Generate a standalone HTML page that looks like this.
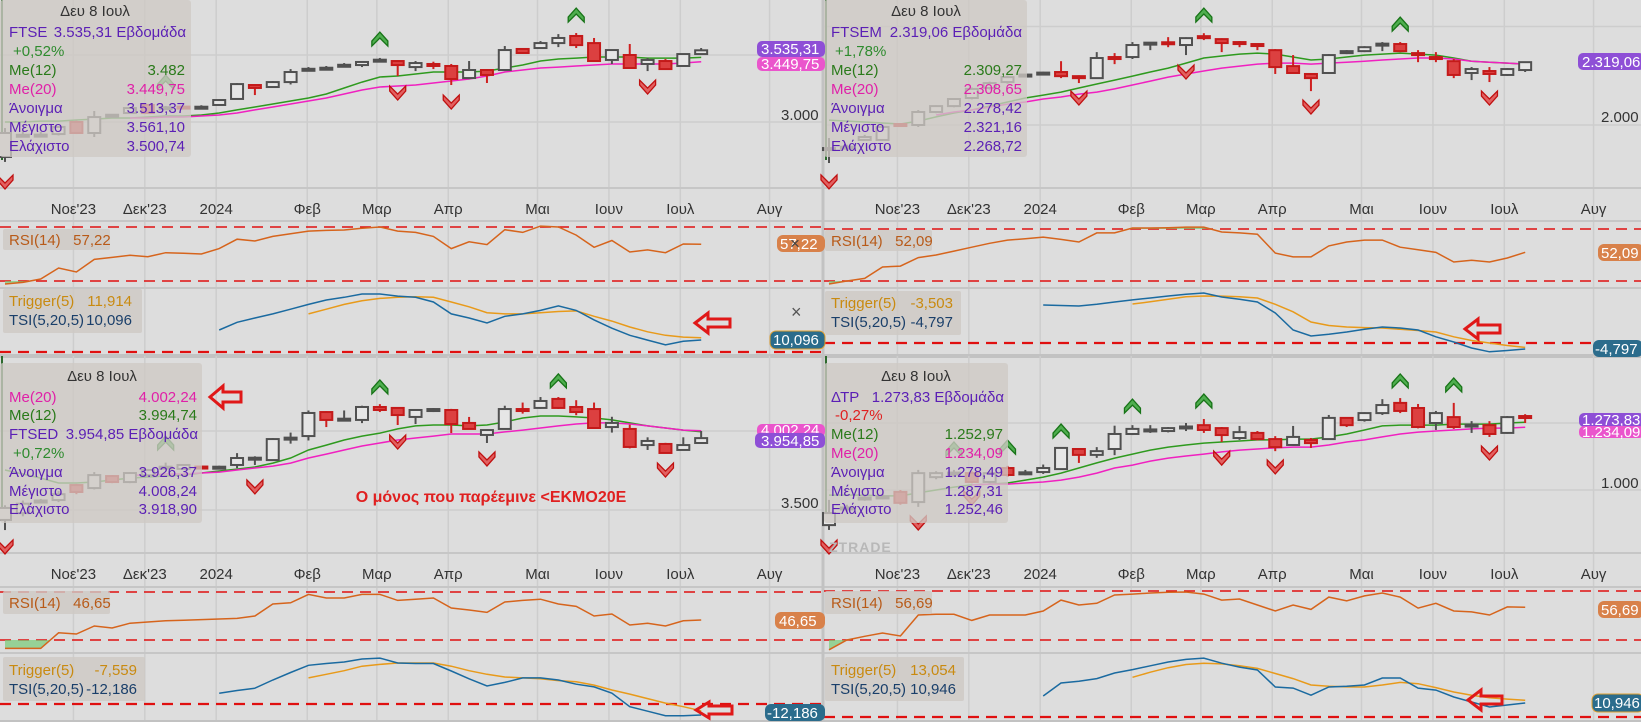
<!DOCTYPE html>
<html><head><meta charset="utf-8"><style>
html,body{margin:0;padding:0;background:#dddddd;}
svg{display:block;font-family:"Liberation Sans","DejaVu Sans",sans-serif;}
.lg{font-size:15px;}
</style></head><body>
<svg id="chart" xmlns="http://www.w3.org/2000/svg" width="1641" height="722" viewBox="0 0 1641 722">
<rect x="0" y="0" width="1641" height="722" fill="#dddddd"/>
<g id="layer-base"></g>
<g id="layer-marks"></g>

<!-- TOP LEFT LEGEND -->
<g class="lg">
<rect x="0" y="0" width="191" height="157" fill="rgba(206,201,196,0.78)" rx="3"/>
<text x="95" y="16" text-anchor="middle" fill="#333">Δευ 8 Ιουλ</text>
<text x="9" y="37" fill="#5b1fb5">FTSE</text>
<text x="186" y="37" text-anchor="end" fill="#5b1fb5">3.535,31 Εβδομάδα</text>
<text x="13" y="56" fill="#2e8b2e">+0,52%</text>
<text x="9" y="75" fill="#2a7a1a">Me(12)</text>
<text x="185" y="75" text-anchor="end" fill="#2a7a1a">3.482</text>
<text x="9" y="94" fill="#e020a8">Me(20)</text>
<text x="185" y="94" text-anchor="end" fill="#e020a8">3.449,75</text>
<text x="9" y="113" fill="#5b1fb5">Άνοιγμα</text>
<text x="185" y="113" text-anchor="end" fill="#5b1fb5">3.513,37</text>
<text x="9" y="132" fill="#5b1fb5">Μέγιστο</text>
<text x="185" y="132" text-anchor="end" fill="#5b1fb5">3.561,10</text>
<text x="9" y="151" fill="#5b1fb5">Ελάχιστο</text>
<text x="185" y="151" text-anchor="end" fill="#5b1fb5">3.500,74</text>
</g>

<!-- TOP RIGHT LEGEND -->
<g class="lg">
<rect x="824" y="0" width="203" height="157" fill="rgba(206,201,196,0.78)" rx="3"/>
<text x="926" y="16" text-anchor="middle" fill="#333">Δευ 8 Ιουλ</text>
<text x="831" y="37" fill="#5b1fb5">FTSEM</text>
<text x="1022" y="37" text-anchor="end" fill="#5b1fb5">2.319,06 Εβδομάδα</text>
<text x="835" y="56" fill="#2e8b2e">+1,78%</text>
<text x="831" y="75" fill="#2a7a1a">Me(12)</text>
<text x="1022" y="75" text-anchor="end" fill="#2a7a1a">2.309,27</text>
<text x="831" y="94" fill="#e020a8">Me(20)</text>
<text x="1022" y="94" text-anchor="end" fill="#e020a8">2.308,65</text>
<text x="831" y="113" fill="#5b1fb5">Άνοιγμα</text>
<text x="1022" y="113" text-anchor="end" fill="#5b1fb5">2.278,42</text>
<text x="831" y="132" fill="#5b1fb5">Μέγιστο</text>
<text x="1022" y="132" text-anchor="end" fill="#5b1fb5">2.321,16</text>
<text x="831" y="151" fill="#5b1fb5">Ελάχιστο</text>
<text x="1022" y="151" text-anchor="end" fill="#5b1fb5">2.268,72</text>
</g>

<!-- BOTTOM LEFT LEGEND -->
<g class="lg">
<rect x="0" y="363" width="202" height="160" fill="rgba(206,201,196,0.78)" rx="3"/>
<text x="102" y="381" text-anchor="middle" fill="#333">Δευ 8 Ιουλ</text>
<text x="9" y="402" fill="#e020a8">Me(20)</text>
<text x="197" y="402" text-anchor="end" fill="#e020a8">4.002,24</text>
<text x="9" y="420" fill="#2a7a1a">Me(12)</text>
<text x="197" y="420" text-anchor="end" fill="#2a7a1a">3.994,74</text>
<text x="9" y="439" fill="#5b1fb5">FTSED</text>
<text x="198" y="439" text-anchor="end" fill="#5b1fb5">3.954,85 Εβδομάδα</text>
<text x="13" y="458" fill="#2e8b2e">+0,72%</text>
<text x="9" y="477" fill="#5b1fb5">Άνοιγμα</text>
<text x="197" y="477" text-anchor="end" fill="#5b1fb5">3.926,37</text>
<text x="9" y="496" fill="#5b1fb5">Μέγιστο</text>
<text x="197" y="496" text-anchor="end" fill="#5b1fb5">4.008,24</text>
<text x="9" y="514" fill="#5b1fb5">Ελάχιστο</text>
<text x="197" y="514" text-anchor="end" fill="#5b1fb5">3.918,90</text>
</g>
<text x="491" y="502" text-anchor="middle" font-size="16" font-weight="bold" fill="#e02020">Ο μόνος που παρέεμινε &lt;ΕΚΜΟ20Ε</text>

<!-- BOTTOM RIGHT LEGEND -->
<g class="lg">
<rect x="824" y="363" width="184" height="160" fill="rgba(206,201,196,0.78)" rx="3"/>
<text x="916" y="381" text-anchor="middle" fill="#333">Δευ 8 Ιουλ</text>
<text x="831" y="402" fill="#5b1fb5">ΔΤΡ</text>
<text x="1004" y="402" text-anchor="end" fill="#5b1fb5">1.273,83 Εβδομάδα</text>
<text x="835" y="420" fill="#e02020">-0,27%</text>
<text x="831" y="439" fill="#2a7a1a">Me(12)</text>
<text x="1003" y="439" text-anchor="end" fill="#2a7a1a">1.252,97</text>
<text x="831" y="458" fill="#e020a8">Me(20)</text>
<text x="1003" y="458" text-anchor="end" fill="#e020a8">1.234,09</text>
<text x="831" y="477" fill="#5b1fb5">Άνοιγμα</text>
<text x="1003" y="477" text-anchor="end" fill="#5b1fb5">1.278,49</text>
<text x="831" y="496" fill="#5b1fb5">Μέγιστο</text>
<text x="1003" y="496" text-anchor="end" fill="#5b1fb5">1.287,31</text>
<text x="831" y="514" fill="#5b1fb5">Ελάχιστο</text>
<text x="1003" y="514" text-anchor="end" fill="#5b1fb5">1.252,46</text>
</g>
<text x="829" y="552" font-size="14" font-weight="bold" fill="#b8b8b8" letter-spacing="1">ZTRADE</text>

<!-- indicator legends -->
<g font-size="15">
<rect x="3" y="229" width="107" height="21" fill="rgba(206,201,196,0.8)" rx="2"/>
<text x="9" y="245" fill="#b85a18">RSI(14)&#160;&#160; 57,22</text>
<rect x="825" y="230" width="107" height="21" fill="rgba(206,201,196,0.8)" rx="2"/>
<text x="831" y="246" fill="#b85a18">RSI(14)&#160;&#160; 52,09</text>
<rect x="3" y="591" width="107" height="23" fill="rgba(206,201,196,0.8)" rx="2"/>
<text x="9" y="608" fill="#b85a18">RSI(14)&#160;&#160; 46,65</text>
<rect x="825" y="591" width="107" height="23" fill="rgba(206,201,196,0.8)" rx="2"/>
<text x="831" y="608" fill="#b85a18">RSI(14)&#160;&#160; 56,69</text>
</g>
<g font-size="15">
<rect x="3" y="289" width="139" height="44" fill="rgba(206,201,196,0.8)" rx="2"/>
<text x="9" y="306" fill="#c98a10">Trigger(5)</text>
<text x="132" y="306" text-anchor="end" fill="#c98a10">11,914</text>
<text x="9" y="325" fill="#1a3f6a">TSI(5,20,5)</text>
<text x="132" y="325" text-anchor="end" fill="#1a3f6a">10,096</text>
<rect x="825" y="291" width="136" height="44" fill="rgba(206,201,196,0.8)" rx="2"/>
<text x="831" y="308" fill="#c98a10">Trigger(5)</text>
<text x="953" y="308" text-anchor="end" fill="#c98a10">-3,503</text>
<text x="831" y="327" fill="#1a3f6a">TSI(5,20,5)</text>
<text x="953" y="327" text-anchor="end" fill="#1a3f6a">-4,797</text>
<rect x="3" y="657" width="142" height="44" fill="rgba(206,201,196,0.8)" rx="2"/>
<text x="9" y="675" fill="#c98a10">Trigger(5)</text>
<text x="137" y="675" text-anchor="end" fill="#c98a10">-7,559</text>
<text x="9" y="694" fill="#1a3f6a">TSI(5,20,5)</text>
<text x="137" y="694" text-anchor="end" fill="#1a3f6a">-12,186</text>
<rect x="825" y="657" width="139" height="44" fill="rgba(206,201,196,0.8)" rx="2"/>
<text x="831" y="675" fill="#c98a10">Trigger(5)</text>
<text x="956" y="675" text-anchor="end" fill="#c98a10">13,054</text>
<text x="831" y="694" fill="#1a3f6a">TSI(5,20,5)</text>
<text x="956" y="694" text-anchor="end" fill="#1a3f6a">10,946</text>
</g>

<!-- right axis labels -->
<g font-size="15">
<text x="781" y="120" fill="#333">3.000</text>
<rect x="757" y="41" width="68" height="16" rx="5" fill="#8e4fd6"/>
<text x="761" y="54" fill="#fff">3.535,31</text>
<rect x="757" y="57" width="68" height="14" rx="5" fill="#ea55cc"/>
<text x="761" y="69" fill="#fff">3.449,75</text>

<text x="1601" y="122" fill="#333">2.000</text>
<rect x="1578" y="53" width="66" height="17" rx="5" fill="#8e4fd6"/>
<text x="1582" y="67" fill="#fff">2.319,06</text>

<text x="781" y="508" fill="#333">3.500</text>
<rect x="757" y="424" width="68" height="13" rx="5" fill="#ea55cc"/>
<text x="761" y="435" fill="#fff">4.002,24</text>
<rect x="755" y="433" width="70" height="15" rx="5" fill="#8e4fd6"/>
<text x="761" y="446" fill="#fff">3.954,85</text>

<text x="1601" y="488" fill="#333">1.000</text>
<rect x="1579" y="413" width="65" height="14" rx="5" fill="#8e4fd6"/>
<text x="1582" y="425" fill="#fff">1.273,83</text>
<rect x="1579" y="426" width="65" height="12" rx="5" fill="#ea55cc"/>
<text x="1582" y="437" fill="#fff">1.234,09</text>

<rect x="777" y="235" width="48" height="17" rx="6" fill="#d8814a"/>
<text x="780" y="249" fill="#fff">57,22</text>
<text x="790" y="249" font-size="17" fill="#444">×</text>
<rect x="1598" y="244" width="46" height="17" rx="6" fill="#d8814a"/>
<text x="1601" y="258" fill="#fff">52,09</text>
<rect x="775" y="612" width="50" height="17" rx="6" fill="#d8814a"/>
<text x="779" y="626" fill="#fff">46,65</text>
<rect x="1598" y="601" width="46" height="17" rx="6" fill="#d8814a"/>
<text x="1601" y="615" fill="#fff">56,69</text>

<text x="791" y="318" font-size="18" fill="#555">×</text>
<rect x="770" y="331" width="55" height="18" rx="6" fill="#2b6c8c" stroke="#e0a030" stroke-width="1"/>
<text x="773" y="345" fill="#fff">10,096</text>
<rect x="1593" y="340" width="50" height="17" rx="6" fill="#2b6c8c"/>
<text x="1595" y="354" fill="#fff">-4,797</text>
<rect x="765" y="704" width="60" height="17" rx="6" fill="#2b6c8c"/>
<text x="767" y="718" fill="#fff">-12,186</text>
<rect x="1592" y="694" width="52" height="18" rx="6" fill="#2b6c8c" stroke="#e0a030" stroke-width="1"/>
<text x="1594" y="708" fill="#fff">10,946</text>
</g>

<!-- red hollow annotation arrows -->
<g fill="none" stroke="#e01818" stroke-width="3" stroke-linejoin="miter">
<polygon transform="translate(695,323)" points="0,0 13,-10 13,-4 35,-4 35,4 13,4 13,10"/>
<polygon transform="translate(1465,329)" points="0,0 13,-10 13,-4 35,-4 35,4 13,4 13,10"/>
<polygon transform="translate(210,397)" points="0,0 13,-11 13,-5 31,-5 31,5 13,5 13,11"/>
<polygon transform="translate(696,710)" points="0,0 13,-8 13,-4 36,-4 36,4 13,4 13,8"/>
<polygon transform="translate(1468,700)" points="0,0 13,-10 13,-4 34,-4 34,4 13,4 13,10"/>
</g>
</svg>
<script>
// ===== month ticks (candle-index positions) =====
const monthLabels = ["Νοε'23","Δεκ'23","2024","Φεβ","Μαρ","Απρ","Μαι","Ιουν","Ιουλ","Αυγ"];
const monthIdx = [4,8,12,17.1,21,25,30,34,38,43];

// ===== FTSE (top-left) =====
const tlOHLC = [[2739,2955,2702,2918],[2900,2930,2890,2905],[2903,2925,2890,2906],[2910,2970,2900,2963],[3000,3010,2910,2918],[2918,3082,2888,3037],[3050,3060,3040,3054],[3067,3110,3060,3104],[3127,3135,3060,3067],[3095,3120,3090,3110],[3115,3120,3095,3100],[3110,3125,3100,3114],[3127,3170,3125,3164],[3172,3290,3170,3283],[3276,3280,3201,3254],[3261,3305,3255,3298],[3298,3395,3280,3373],[3393,3410,3380,3397],[3401,3418,3390,3405],[3423,3440,3410,3427],[3425,3455,3410,3448],[3461,3478,3450,3465],[3455,3460,3343,3425],[3410,3455,3380,3440],[3433,3450,3395,3418],[3418,3433,3276,3321],[3328,3455,3320,3388],[3388,3395,3291,3351],[3388,3567,3380,3537],[3545,3550,3510,3515],[3552,3604,3552,3589],[3589,3656,3559,3627],[3642,3664,3552,3574],[3589,3627,3455,3455],[3463,3537,3433,3537],[3500,3582,3403,3403],[3433,3478,3380,3463],[3455,3470,3395,3395],[3418,3510,3418,3507],[3507,3552,3500,3535]];
const tlMa12 = [3000,3000,3007,3007,3015,3022,3030,3030,3037,3045,3045,3052,3067,3090,3112,3134,3157,3179,3209,3254,3298,3336,3343,3358,3373,3373,3373,3380,3403,3425,3455,3470,3477,3485,3485,3485,3477,3477,3477,3482];
const tlMa20 = [3030,3030,3037,3037,3045,3052,3067,3090,3112,3134,3157,3179,3209,3239,3261,3269,3276,3291,3306,3321,3343,3373,3388,3403,3410,3418,3425,3433,3433,3433,3433,3440,3450];
const tlRsi = [27.8,29,31.5,39.6,36.7,46,47.5,49,48,51,50.5,50,54,61,59.6,63,65,67,67.5,67.8,69,70,67,66,63,54,59,57,68,66,70.7,70,64,55,60,51.5,53,51,57.4,57.22];
const tlTsi = [18.5,25,28.6,32,36,40,43.7,46,48.7,48.7,47,46,42,32,28.6,24.4,30,32,35,38.7,35,27,20,14,10,6,9,10.096];
const tlTrig = [32,36,40,43,45,46,46.5,46,42,38,33,32,32,33,34,34.5,30,26,21,17,14,12.5,11.914];
const tlUp = [[9,3298],[21,3619],[32,3798]];
const tlDn = [[0,2552],[22,3216],[25,3149],[36,3261]];

// ===== FTSEM (top-right) =====
const trOHLC = [[1873,1934,1807,1883],[1886,1900,1870,1890],[1924,1950,1920,1939],[1924,2000,1920,1990],[2005,2010,1995,2000],[2000,2076,1990,2066],[2066,2100,2060,2096],[2096,2135,2090,2132],[2137,2190,2130,2183],[2188,2220,2180,2213],[2218,2250,2210,2243],[2252,2260,2245,2256],[2262,2270,2255,2266],[2269,2324,2238,2248],[2248,2252,2213,2238],[2238,2370,2235,2340],[2345,2365,2309,2335],[2345,2421,2335,2406],[2414,2421,2380,2418],[2420,2446,2395,2412],[2406,2445,2355,2441],[2451,2466,2431,2441],[2436,2440,2370,2416],[2421,2426,2395,2411],[2411,2412,2380,2401],[2380,2385,2259,2294],[2299,2355,2264,2264],[2259,2260,2172,2238],[2264,2360,2260,2355],[2365,2380,2360,2375],[2375,2400,2370,2395],[2409,2421,2375,2413],[2411,2421,2370,2375],[2365,2380,2319,2355],[2345,2370,2319,2335],[2324,2335,2238,2254],[2264,2294,2228,2284],[2274,2294,2218,2259],[2254,2289,2249,2284],[2279,2321,2269,2319]];
const trMa12 = [2025,2020,2015,2010,2005,2020,2041,2061,2076,2096,2117,2137,2152,2167,2188,2208,2228,2248,2269,2289,2314,2340,2350,2360,2365,2360,2345,2330,2335,2345,2355,2360,2365,2360,2355,2340,2324,2319,2314,2309];
const trMa20 = [2051,2066,2076,2091,2106,2117,2132,2142,2157,2167,2183,2203,2223,2243,2259,2274,2289,2299,2309,2314,2314,2309,2314,2319,2324,2330,2335,2340,2340,2335,2324,2319,2314,2309];
const trRsi = [27.7,30,32,40.8,41.5,48,50,53,56,59,61.5,62.5,63.8,62,60,67,67,70.8,70.8,71,71.5,71.5,67.7,67,66,51.5,48.5,48.5,57,60,61.5,61.5,56,54,52,44.6,46,44.6,47.7,52.09];
const trTsi = [30.4,30,29.6,31,32.8,34.5,36,37.6,39,40,36.8,35,32.8,24,10.4,5.6,7,8.8,11,12.8,12,10.4,5,0.8,-4,-7,-6,-4.797];
const trTrig = [31.2,33,35,37,37.6,37.5,37,36,31,25,16.8,14,12.8,12.3,12,11,10,8.8,5,2,0,-2,-3.503];
const trUp = [[21,2558],[32,2512]];
const trDn = [[0,1711],[14,2137],[20,2269],[27,2091],[37,2137]];

// ===== FTSED (bottom-left) =====
const blOHLC = [[3437,3530,3373,3513],[3480,3560,3460,3540],[3556,3570,3545,3560],[3563,3620,3550,3600],[3658,3665,3600,3614],[3639,3740,3630,3721],[3715,3720,3670,3677],[3677,3740,3670,3734],[3720,3760,3710,3753],[3770,3800,3760,3774],[3760,3790,3755,3785],[3775,3780,3765,3770],[3770,3780,3760,3774],[3785,3860,3765,3829],[3827,3840,3785,3831],[3816,3955,3810,3949],[3954,3990,3920,3958],[3968,4130,3940,4114],[4120,4125,4025,4070],[4074,4130,4070,4078],[4070,4160,4050,4152],[4152,4170,4120,4133],[4146,4150,4038,4101],[4089,4139,4044,4133],[4127,4145,4120,4139],[4133,4140,3987,4044],[4051,4089,4010,4013],[3975,4010,3924,4006],[4013,4160,4010,4139],[4139,4180,4110,4127],[4146,4215,4140,4190],[4203,4215,4140,4146],[4152,4195,4100,4120],[4139,4180,4019,4019],[4025,4090,3990,4051],[4013,4040,3890,3899],[3911,3960,3880,3937],[3918,3925,3860,3861],[3880,3960,3880,3911],[3924,4000,3924,3955]];
const blMa12 = [3753,3728,3702,3671,3671,3677,3690,3702,3709,3715,3721,3734,3747,3759,3772,3797,3829,3880,3911,3943,3968,3987,4013,4032,4038,4038,4032,4038,4057,4082,4095,4095,4089,4082,4070,4051,4032,4019,4006,3995];
const blMa20 = [3721,3721,3728,3728,3734,3740,3753,3766,3778,3797,3829,3854,3880,3905,3924,3943,3956,3968,3981,3981,3981,3994,4006,4019,4032,4044,4051,4051,4044,4032,4019,4006,4002];
const blRsi = [23,23,23,36,35,41.7,40,44,45,46,46.5,47,47.5,48,50,60,61,68,65,65,68,68,63,64,65,56.7,55,53,61.7,63,64,60,58,50,51.7,42.5,44,41.7,46,46.65];
const blTsi = [12,15,17.6,26.7,35,43,45,46.7,50,51,45.6,45,45,36.7,28,20,24,29,29,26.7,22,19,12,-3,-8,-13,-13,-12.186];
const blTrig = [29,33,37,42,44,45.6,45.6,45.6,42,37,33,30,29,28,26,24.7,21,15.6,11,6,1,-3,-7.559];
const blUp = [[9,3924],[21,4279],[31,4317]];
const blDn = [[0,3266],[14,3646],[22,3930],[27,3823],[37,3753]];

// ===== ΔΤΡ (bottom-right) =====
const brOHLC = [[869,963,851,914],[930,945,920,935],[968,980,960,972],[972,985,965,976],[993,1000,945,952],[955,1075,937,1063],[1048,1070,1040,1063],[1060,1075,1050,1065],[1063,1070,1025,1030],[1030,1070,1025,1063],[1082,1090,1050,1056],[1062,1075,1055,1066],[1067,1095,1060,1082],[1078,1160,1075,1157],[1153,1155,1101,1131],[1131,1160,1120,1145],[1153,1240,1130,1209],[1209,1242,1205,1228],[1222,1242,1213,1226],[1220,1235,1215,1231],[1233,1250,1220,1237],[1242,1265,1213,1224],[1231,1235,1179,1205],[1194,1239,1187,1216],[1213,1220,1185,1190],[1190,1201,1145,1160],[1168,1239,1165,1198],[1187,1194,1157,1175],[1190,1280,1188,1269],[1269,1270,1235,1242],[1261,1290,1255,1287],[1287,1339,1280,1317],[1325,1343,1287,1295],[1306,1321,1230,1235],[1250,1295,1224,1287],[1272,1325,1228,1235],[1240,1257,1213,1244],[1242,1257,1198,1209],[1213,1276,1210,1272],[1276,1283,1250,1273.83]];
const brMa12 = [981,981,981,978,978,989,1000,1011,1019,1022,1026,1037,1048,1063,1082,1101,1119,1134,1149,1160,1168,1175,1179,1183,1187,1187,1190,1190,1198,1209,1224,1239,1242,1242,1242,1246,1246,1246,1250,1253];
const brMa20 = [1019,1022,1022,1026,1030,1037,1048,1063,1082,1093,1108,1119,1127,1134,1142,1149,1153,1157,1160,1160,1168,1179,1187,1198,1209,1216,1220,1224,1228,1231,1231,1234];
const brRsi = [22,30,33,35.7,33.3,50.4,51,51,46,50.4,50.4,50.4,53.7,62.6,58.6,60,66.7,67.5,68.4,69,69.2,67.5,62.6,63.5,58.6,53.7,58.6,55,65,62,66,68.4,65,56,60,53.7,52.9,50.4,57,56.69];
const brTsi = [16.4,26.6,28,30,34.4,37,40,43,45,46,42,39,36.7,23.4,22.6,17,23.4,24,25,30.5,30.5,22.6,21,15.6,11.7,7.8,9.4,10.946];
const brTrig = [31,35,38.5,41,42,41.5,40,38,34,30,25,24,23.5,23.4,25,27,26,23,19.5,17,15,14,13.054];
const brUp = [[7,1153],[10,1160],[13,1220],[17,1313],[21,1332],[32,1407],[35,1392]];
const brDn = [[0,787],[5,877],[8,970],[22,1119],[25,1086],[37,1138]];

// ===== layout =====
const NS = "http://www.w3.org/2000/svg";
const base = document.getElementById('layer-base');
const marks = document.getElementById('layer-marks');
function mk(tag, attrs, parent){
  const e = document.createElementNS(NS, tag);
  for (const k in attrs) e.setAttribute(k, attrs[k]);
  parent.appendChild(e);
  return e;
}
const panels = [
  {key:'ftse', x0:0, w:822, top:0, mainBot:188, axisBot:221, rsiBot:288, bot:356,
   pRefY:122, pRef:3000, pk:0.134, grid:[3000,3500], y70:227, y30:281, t0:352, tk:1.19,
   ohlc:tlOHLC, ma12:tlMa12, ma20:tlMa20, ma20s:7, rsi:tlRsi, tsi:tlTsi, tsiS:12, trig:tlTrig, trigS:17, up:tlUp, dn:tlDn},
  {key:'ftsem', x0:824, w:817, top:0, mainBot:188, axisBot:221, rsiBot:288, bot:356,
   pRefY:125, pRef:2000, pk:0.197, grid:[2000,2500], y70:229, y30:281, t0:343, tk:1.25,
   ohlc:trOHLC, ma12:trMa12, ma20:trMa20, ma20s:6, rsi:trRsi, tsi:trTsi, tsiS:12, trig:trTrig, trigS:17, up:trUp, dn:trDn},
  {key:'ftsed', x0:0, w:822, top:356, mainBot:553, axisBot:587, rsiBot:653, bot:722,
   pRefY:431, pRef:4000, pk:0.158, grid:[3500,4000], y70:592, y30:640, t0:704, tk:0.9,
   ohlc:blOHLC, ma12:blMa12, ma20:blMa20, ma20s:7, rsi:blRsi, tsi:blTsi, tsiS:12, trig:blTrig, trigS:17, up:blUp, dn:blDn},
  {key:'dtr', x0:824, w:817, top:356, mainBot:553, axisBot:587, rsiBot:653, bot:722,
   pRefY:490, pRef:1000, pk:0.268, grid:[1000,1250], y70:591, y30:640, t0:717, tk:1.28,
   ohlc:brOHLC, ma12:brMa12, ma20:brMa20, ma20s:8, rsi:brRsi, tsi:brTsi, tsiS:12, trig:brTrig, trigS:17, up:brUp, dn:brDn}
];

panels.forEach(P => {
  const xOf = i => P.x0 + 5 + 17.85 * i;
  const yP = p => P.pRefY - (p - P.pRef) * P.pk;
  const yR = r => P.y30 - (r - 30) * (P.y30 - P.y70) / 40;
  const yT = v => P.t0 - v * P.tk;
  const x1 = P.x0, x2 = P.x0 + P.w;

  // vertical month grid + labels
  monthIdx.forEach((mi, k) => {
    const x = xOf(mi) - 3;
    const gl = mk('line', {x1:x, x2:x, y1:P.top, y2:P.bot, stroke:'#cdcdcd', 'stroke-width':1.5}, base);
    
    
    const t = mk('text', {x:x, y:P.mainBot + 26, 'text-anchor':'middle', 'font-size':15, fill:'#333'}, base);
    
    
    t.textContent = monthLabels[k];
  });
  // price grid
  P.grid.forEach(p => {
    const y = yP(p);
    if (y > P.top && y < P.mainBot) {
      const gl = mk('line', {x1:x1, x2:x2, y1:y, y2:y, stroke:'#cdcdcd', 'stroke-width':1.5}, base);
      
      
    }
  });
  // pane separators
  [P.mainBot, P.axisBot, P.rsiBot].forEach(y => {
    const s = mk('line', {x1:x1, x2:x2, y1:y, y2:y, stroke:'#c6c6c6', 'stroke-width':2}, base);
    
    
  });
  const sb = mk('line', {x1:x1, x2:x2, y1:P.bot, y2:P.bot, stroke:'#c2c2c2', 'stroke-width':4}, base);
  
  
  if (P.x0 > 0) {
    const vs = mk('line', {x1:P.x0 - 1, x2:P.x0 - 1, y1:P.top, y2:P.bot, stroke:'#c2c2c2', 'stroke-width':3}, base);
    
    
  }
  const gl2 = mk('line', {x1:P.x0 + 2, x2:P.x0 + 2, y1:P.top, y2:P.top + 160, stroke:'#2d6a2d', 'stroke-width':2}, base);
  
  

  const g = mk('g', {}, marks);
  
  

  // moving averages
  const pts12 = P.ma12.map((v, i) => xOf(i).toFixed(1) + ',' + yP(v).toFixed(1)).join(' ');
  const m12 = mk('polyline', {points:pts12, fill:'none', stroke:'#2e9a1e', 'stroke-width':1.5}, g);
  
  
  const pts20 = P.ma20.map((v, i) => xOf(i + P.ma20s).toFixed(1) + ',' + yP(v).toFixed(1)).join(' ');
  const m20 = mk('polyline', {points:pts20, fill:'none', stroke:'#f020c0', 'stroke-width':1.5}, g);
  
  

  // candles
  P.ohlc.forEach((c, i) => {
    const [o, h, l, cl] = c;
    const x = xOf(i);
    const up = cl >= o;
    const col = up ? '#505050' : '#cf1f1f';
    const w = mk('line', {x1:x, x2:x, y1:yP(h), y2:yP(l), stroke:col, 'stroke-width':2}, g);
    
    
    const yt = yP(Math.max(o, cl)), yb = yP(Math.min(o, cl));
    const bh = Math.max(yb - yt, 2);
    const b = mk('rect', {x:x - 6, y:yt, width:12, height:bh,
      fill: up ? '#e6e6e6' : '#dc4040', stroke: up ? '#505050' : '#c41a1a', 'stroke-width':2}, g);
    
    
  });

  // signal chevrons
  P.up.forEach(s => {
    const x = xOf(s[0]), y = yP(s[1]);
    const c = mk('polygon', {points:`${x-8},${y+2} ${x},${y-7} ${x+8},${y+2} ${x+8},${y+7} ${x},${y-1} ${x-8},${y+7}`,
      fill:'#4fae4f', stroke:'#177317', 'stroke-width':1.3}, g);
    
    
  });
  P.dn.forEach(s => {
    const x = xOf(s[0]), y = yP(s[1]);
    const c = mk('polygon', {points:`${x-8},${y-2} ${x},${y+7} ${x+8},${y-2} ${x+8},${y-7} ${x},${y+1} ${x-8},${y-7}`,
      fill:'#e26060', stroke:'#c01010', 'stroke-width':1.3}, g);
    
    
  });

  // RSI pane
  [P.y70, P.y30].forEach(y => {
    const d = mk('line', {x1:x1, x2:x2, y1:y, y2:y, stroke:'#e01010', 'stroke-width':1.5, 'stroke-dasharray':'11,7'}, g);
    
    
  });
  const rsiPts = P.rsi.map((v, i) => [xOf(i), yR(v)]);
  const clipId = 'clip-' + P.key;
  const cp = mk('clipPath', {id:clipId}, g);
  mk('rect', {x:x1, y:P.axisBot, width:P.w, height:P.y70 - P.axisBot}, cp);
  mk('rect', {x:x1, y:P.y30, width:P.w, height:P.rsiBot - P.y30}, cp);
  const fillHi = mk('polygon', {points: `${rsiPts[0][0]},${P.y70} ` + rsiPts.map(p => p[0].toFixed(1)+','+p[1].toFixed(1)).join(' ') + ` ${rsiPts[rsiPts.length-1][0]},${P.y70}`,
    fill:'rgba(120,205,120,0.45)', 'clip-path':`url(#${clipId})`}, g);
  
  
  const fillLo = mk('polygon', {points: `${rsiPts[0][0]},${P.y30} ` + rsiPts.map(p => p[0].toFixed(1)+','+p[1].toFixed(1)).join(' ') + ` ${rsiPts[rsiPts.length-1][0]},${P.y30}`,
    fill:'rgba(120,205,120,0.45)', 'clip-path':`url(#${clipId})`}, g);
  
  
  const rl = mk('polyline', {points: rsiPts.map(p => p[0].toFixed(1)+','+p[1].toFixed(1)).join(' '), fill:'none', stroke:'#d6641c', 'stroke-width':1.5}, g);
  
  

  // TSI pane
  const tz = mk('line', {x1:x1, x2:x2, y1:P.t0, y2:P.t0, stroke:'#e01010', 'stroke-width':2.2, 'stroke-dasharray':'11,7'}, g);
  
  
  const tr = mk('polyline', {points: P.trig.map((v, i) => xOf(i + P.trigS).toFixed(1)+','+yT(v).toFixed(1)).join(' '), fill:'none', stroke:'#e89a1a', 'stroke-width':1.5}, g);
  
  
  const ts = mk('polyline', {points: P.tsi.map((v, i) => xOf(i + P.tsiS).toFixed(1)+','+yT(v).toFixed(1)).join(' '), fill:'none', stroke:'#1a6aa0', 'stroke-width':1.5}, g);
  
  
});
</script>
</body></html>
